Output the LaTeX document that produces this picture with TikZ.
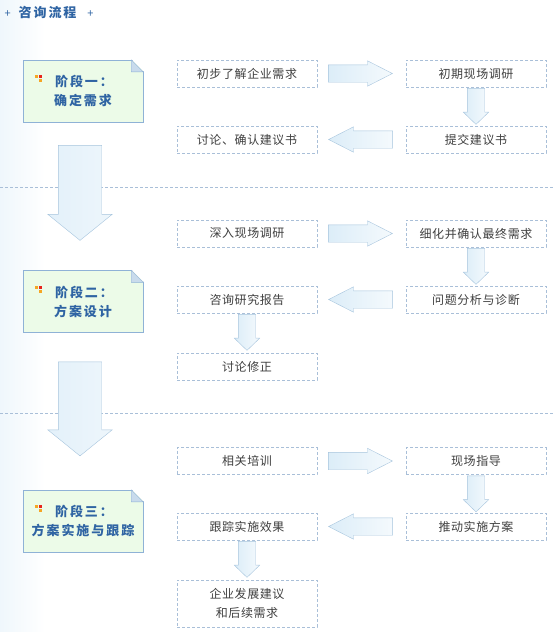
\documentclass[tikz,border=0pt]{standalone}
\usepackage{fontspec}
\setmainfont{Noto Sans CJK SC}
\newfontfamily\stagefont[LetterSpace=15]{Noto Sans CJK SC}
\newfontfamily\boxfont[LetterSpace=5]{Noto Sans CJK SC}
\usetikzlibrary{shapes.arrows,calc}
\definecolor{linec}{HTML}{A9BFD8}
\definecolor{arrowc}{HTML}{A6C4DD}
\definecolor{arrowf}{HTML}{DCEDF8}
\definecolor{notef}{HTML}{ECFBE8}
\definecolor{notel}{HTML}{8FB2D6}
\definecolor{foldf}{HTML}{C9DBEC}
\definecolor{stagec}{HTML}{2F64A3}
\definecolor{textc}{HTML}{404040}
\definecolor{icono}{HTML}{F5A623}
\definecolor{iconr}{HTML}{E8231B}
\begin{document}
\begin{tikzpicture}[x=1pt,y=-1pt,
  stepbox/.style={draw=linec,densely dashed,fill=white,minimum width=140pt,minimum height=27pt,
    inner sep=2pt,text=textc,align=center,font=\boxfont\fontsize{12}{19}\selectfont},
  stagebox/.style={draw=notel,fill=notef,minimum width=120pt,minimum height=62pt,inner sep=0pt,
    text=stagec,align=center,font=\stagefont\bfseries\fontsize{13}{19}\selectfont},
  flow/.style={single arrow,draw=arrowc,inner xsep=0pt,inner ysep=8.5pt,minimum width=25pt,minimum height=64pt,
    single arrow head extend=4pt,single arrow tip angle=54,anchor=tail,left color=arrowf,right color=arrowf!30},
  down/.style={rotate=-90,minimum height=36pt,single arrow tip angle=92},
  bigflow/.style={single arrow,draw=arrowc,inner xsep=0pt,inner ysep=21.5pt,minimum width=64pt,minimum height=95pt,
    single arrow head extend=10.5pt,single arrow tip angle=102,anchor=tail,rotate=-90,
    left color=arrowf!80,right color=arrowf!50}]
\useasboundingbox (0,0) rectangle (553,632);
\shade[left color=arrowf!45,right color=white] (0,0) rectangle (45,632);

% title
\node[anchor=west,text=stagec,font=\fontsize{11}{13}\selectfont] (title) at (1,12)
  {+\hspace{8pt}{\stagefont\bfseries\fontsize{13}{15}\selectfont 咨询流程}\hspace{11pt}+};

% separators
\draw[linec,densely dashed] (0,187) -- (553,187);
\draw[linec,densely dashed] (0,413) -- (553,413);

% stages
\node[stagebox] (s1) at (83,91) {\hspace*{19pt}阶段一：\hspace*{17pt}\\确定需求};
\node[stagebox] (s2) at (83,301.5) {\hspace*{19pt}阶段二：\hspace*{17pt}\\方案设计};
\node[stagebox] (s3) at (83,521) {\hspace*{19pt}阶段三：\hspace*{17pt}\\方案实施与跟踪};
\foreach \s in {s1,s2,s3} {
  \fill[white] ([xshift=-12pt,yshift=1pt]\s.north east) -- ([xshift=1pt,yshift=1pt]\s.north east)
    -- ([xshift=1pt,yshift=-12pt]\s.north east) -- cycle;
  \filldraw[fill=foldf,draw=notel] ([xshift=-12pt]\s.north east) -- ([xshift=-12pt,yshift=-12pt]\s.north east)
    -- ([yshift=-12pt]\s.north east) -- cycle;
  \fill[icono] ($(\s)+(-48,-16)$) rectangle +(3,3);
  \fill[iconr] ($(\s)+(-44,-16)$) rectangle +(3,3);
  \fill[icono] ($(\s)+(-44,-12)$) rectangle +(3,3);
}

% stage one
\node[stepbox] (a1) at (247,73.5) {初步了解企业需求};
\node[stepbox] (a2) at (476,73.5) {初期现场调研};
\node[stepbox] (a3) at (476,139.5) {提交建议书};
\node[stepbox] (a4) at (247,139.5) {讨论、确认建议书};

% stage two
\node[stepbox] (b1) at (247,233.5) {深入现场调研};
\node[stepbox] (b2) at (476,233.5) {细化并确认最终需求};
\node[stepbox] (b3) at (476,299.5) {问题分析与诊断};
\node[stepbox] (b4) at (247,299.5) {咨询研究报告};
\node[stepbox] (b5) at (247,366.5) {讨论修正};

% stage three
\node[stepbox] (c1) at (247,461) {相关培训};
\node[stepbox] (c2) at (476,461) {现场指导};
\node[stepbox] (c3) at (476,526.5) {推动实施方案};
\node[stepbox] (c4) at (247,526.5) {跟踪实施效果};
\node[stepbox,minimum height=47pt] (c5) at (247,603.5) {企业发展建议\\和后续需求};

% arrows
\node[flow] (ra) at ([xshift=11pt]a1.east) {};
\node[flow,down] (da) at ([yshift=-1pt]a2.south) {};
\node[flow,rotate=180] (la) at ([xshift=-13pt]a3.west) {};
\node[flow] (rb) at ([xshift=11pt]b1.east) {};
\node[flow,down] (db) at ([yshift=-1pt]b2.south) {};
\node[flow,rotate=180] (lb) at ([xshift=-13pt]b3.west) {};
\node[flow,down] (eb) at ([yshift=-1pt]b4.south) {};
\node[flow] (rc) at ([xshift=11pt]c1.east) {};
\node[flow,down] (dc) at ([yshift=-1pt]c2.south) {};
\node[flow,rotate=180] (lc) at ([xshift=-13pt]c3.west) {};
\node[flow,down] (ec) at ([yshift=-1pt]c4.south) {};
\node[bigflow] (g1) at ([xshift=-3pt,yshift=-23pt]s1.south) {};
\node[bigflow,minimum height=94pt] (g2) at ([xshift=-3pt,yshift=-29pt]s2.south) {};
\end{tikzpicture}
\end{document}
